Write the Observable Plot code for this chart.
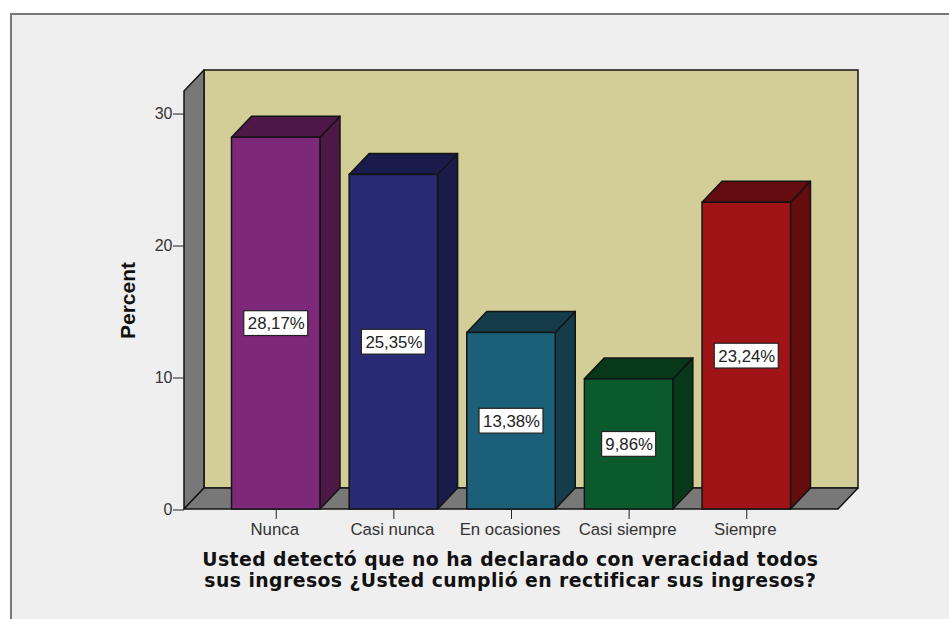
<!DOCTYPE html>
<html><head><meta charset="utf-8">
<script src="https://cdn.jsdelivr.net/npm/d3@7"></script>
<script src="https://cdn.jsdelivr.net/npm/@observablehq/plot@0.6"></script>
<style>
html,body{margin:0;padding:0;background:#fff;width:949px;height:619px;overflow:hidden}
#panel{position:absolute;left:10px;top:13px;width:939px;height:606px;box-sizing:border-box;background:#efefef;border-left:2px solid #777;border-top:2px solid #777}
#chart{position:absolute;left:0;top:0}
svg{background:transparent!important;overflow:visible}
</style></head><body>
<div id="panel"></div><div id="chart"></div>
<script>
const categories = ["Nunca","Casi nunca","En ocasiones","Casi siempre","Siempre"];
const percents = [28.17,25.35,13.38,9.86,23.24];
const percentLabels = ["28,17%","25,35%","13,38%","9,86%","23,24%"];
const frontColors = ["#7d2878","#282a73","#1b5f78","#0a5a2d","#a01418"];
const sideColors = ["#4d1848","#191b4a","#143c4b","#063819","#640c0e"];
const yTicks = [0,10,20,30];
const titleLines = "Usted detectó que no ha declarado con veracidad todos\nsus ingresos ¿Usted cumplió en rectificar sus ingresos?";

const xMin=-0.78, xMax=4.78, yMax=31.67;
const dx=0.17, dy=1.59, half=0.376, edge="#141414", sw=1.5;
const face=(pts,fill)=>Plot.areaY(pts,{x:"x",y1:"a",y2:"b",fill,stroke:edge,strokeWidth:sw,strokeLinejoin:"round",curve:"linear"});
const topFace=(l,r,v,fill)=>face([{x:l,a:v,b:v},{x:l+dx,a:v,b:v+dy},{x:r,a:v,b:v+dy},{x:r+dx,a:v+dy,b:v+dy}],fill);
const sideFace=(r,lo,hi,fill)=>face([{x:r,a:lo,b:hi},{x:r+dx,a:lo+dy,b:hi+dy}],fill);

const barMarks=categories.flatMap((c,i)=>{
  const v=percents[i],l=i-half,r=i+half;
  return [
    sideFace(r,0,v,sideColors[i]),
    topFace(l,r,v,sideColors[i]),
    Plot.rect([{x1:l,x2:r,y1:0,y2:v}],{x1:"x1",x2:"x2",y1:"y1",y2:"y2",fill:frontColors[i],stroke:edge,strokeWidth:sw})
  ];
});
const bh=0.94;
const labelData=categories.map((c,i)=>({i,v:percents[i]/2,t:percentLabels[i],bw:percentLabels[i].length>5?0.272:0.23}));

const plot=Plot.plot({
  width:949,height:619,
  marginLeft:184,marginRight:111,marginTop:91,marginBottom:110,
  style:{background:"transparent",fontFamily:"'Liberation Sans',Arial,sans-serif"},
  x:{type:"linear",domain:[xMin,xMax]},
  y:{type:"linear",domain:[0,yMax]},
  marks:[
    Plot.rect([0],{x1:()=>xMin+dx,x2:()=>xMax+dx,y1:()=>dy,y2:()=>yMax+dy,fill:"#d3ce97",stroke:edge,strokeWidth:sw}),
    sideFace(xMin,0,yMax,"#787878"),
    topFace(xMin,xMax,0,"#787878"),
    ...barMarks,
    Plot.rect(labelData,{x1:d=>d.i-d.bw,x2:d=>d.i+d.bw,y1:d=>d.v-bh,y2:d=>d.v+bh,fill:"#fff",stroke:"#222",strokeWidth:1.2}),
    Plot.text(labelData,{x:"i",y:"v",text:"t",fontSize:16.8,fill:"#222"}),
    Plot.axisY({ticks:yTicks,tickSize:11,tickPadding:1,fontSize:16,tickFormat:d=>d,stroke:"#222",color:"#333",dy:0.5,
      label:"Percent",labelAnchor:"center",labelArrow:"none",labelOffset:64}),
    Plot.axisX({ticks:d3.range(categories.length),tickSize:10,tickFormat:()=>"",stroke:"#222",label:null}),
    Plot.axisX({ticks:d3.range(categories.length),tickSize:0,tickPadding:14,fontSize:16.8,dx:-1.5,color:"#333",
      tickFormat:i=>categories[i],label:null}),
    Plot.text([titleLines],{x:()=>1.99,y:()=>-3.18,text:d=>d,fontFamily:"'DejaVu Sans',sans-serif",fontWeight:"bold",fontSize:18.8,lineHeight:1.12,fill:"#111",lineAnchor:"top"})
  ]
});
d3.select(plot).selectAll("[aria-label='y-axis label'] text, [aria-label='y-axis label']").style("font-weight","bold").style("font-size","21px").style("fill","#111");
d3.select(plot).selectAll("text").filter(function(){return this.textContent.startsWith("Usted")}).style("letter-spacing","0.45px");
document.getElementById("chart").appendChild(plot);
</script></body></html>
